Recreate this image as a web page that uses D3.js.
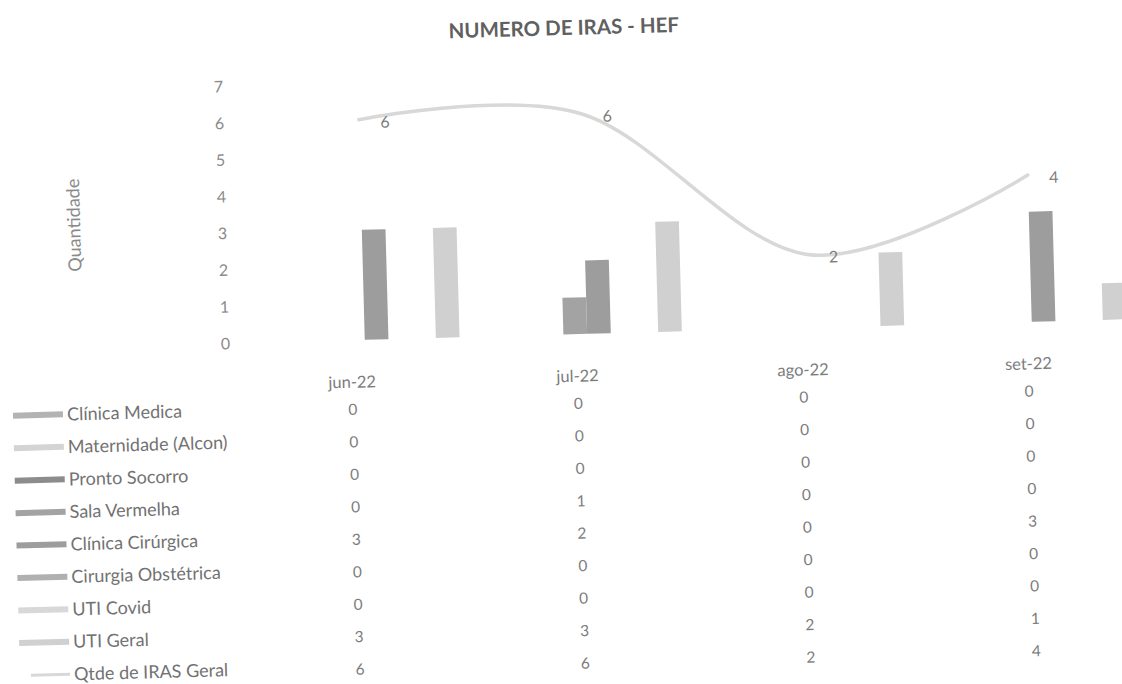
<!DOCTYPE html>
<html><head><meta charset="utf-8">
<script src="https://cdn.jsdelivr.net/npm/d3@7"></script>
<style>
html,body{margin:0;padding:0;background:#fff;}
svg{display:block;}
text{font-family:Lato,"Open Sans",sans-serif;}
</style></head><body>
<svg id="chart" width="1122" height="684"></svg>
<script>
// ---- data ----
const categories = ["jun-22", "jul-22", "ago-22", "set-22"];
const seriesNames = ["Clínica Medica", "Maternidade (Alcon)", "Pronto Socorro", "Sala Vermelha",
  "Clínica Cirúrgica", "Cirurgia Obstétrica", "UTI Covid", "UTI Geral"];
const clinicaMedica      = [0, 0, 0, 0];
const maternidadeAlcon   = [0, 0, 0, 0];
const prontoSocorro      = [0, 0, 0, 0];
const salaVermelha       = [0, 1, 0, 0];
const clinicaCirurgica   = [3, 2, 0, 3];
const cirurgiaObstetrica = [0, 0, 0, 0];
const utiCovid           = [0, 0, 0, 0];
const utiGeral           = [3, 3, 2, 1];
const lineName = "Qtde de IRAS Geral";
const qtdeIrasGeral = [6, 6, 2, 4];
const yTicks = [0, 1, 2, 3, 4, 5, 6, 7];
const titleText = "NUMERO DE IRAS - HEF";
const yTitle = "Quantidade";

// ---- styles ----
const barColors = ["#b3b3b3", "#d4d4d4", "#8c8c8c", "#a3a3a3", "#9d9d9d", "#b0b0b0", "#d8d8d8", "#d0d0d0"];
const lineColor = "#d8d8d8";
const textColor = "#7c7c7c";

const seriesValues = [clinicaMedica, maternidadeAlcon, prontoSocorro, salaVermelha,
  clinicaCirurgica, cirurgiaObstetrica, utiCovid, utiGeral];
const barData = [];
categories.forEach((c, ci) => seriesNames.forEach((s, si) =>
  barData.push({cat: c, name: s, value: seriesValues[si][ci]})));

const svg = d3.select("#chart");
svg.append("rect").attr("width", 1122).attr("height", 684).attr("fill", "#fff");
// the scanned page is slightly tilted
const g = svg.append("g").attr("transform", "rotate(-1.55,600,334)");

// ---- scales ----
const x0 = d3.scaleBand().domain(categories).range([253.5, 1143.1])
  .paddingInner(0.1475).paddingOuter(0.07375);
const x1 = d3.scaleBand().domain(seriesNames).range([0, x0.bandwidth()]).padding(0);
const y = d3.scaleLinear().domain([0, 7]).range([333.5, 333.5 - 7 * 36.7]);
const color = d3.scaleOrdinal().domain(seriesNames).range(barColors);

// title
g.append("text").attr("x", 572).attr("y", 27).attr("dy", "0.35em")
  .attr("text-anchor", "middle").attr("font-size", 20.5).attr("font-weight", "bold")
  .attr("fill", "#606060").text(titleText);

// y axis title
g.append("text").attr("transform", "translate(77,211) rotate(-90)").attr("dy", "0.35em")
  .attr("text-anchor", "middle").attr("font-size", 18).attr("fill", "#8a8a8a").text(yTitle);

// y axis
const yAxis = g.append("g").attr("transform", "translate(230,0)")
  .call(d3.axisLeft(y).tickValues(yTicks).tickSize(0).tickPadding(0).tickFormat(d3.format("d")));
yAxis.select(".domain").remove();
yAxis.selectAll("text").attr("font-size", 16).attr("fill", "#8a8a8a")
  .attr("font-family", "Lato,'Open Sans',sans-serif");

// bars
g.append("g").selectAll("rect").data(barData.filter(d => d.value > 0)).join("rect")
  .attr("x", d => x0(d.cat) + x1(d.name))
  .attr("width", x1.bandwidth())
  .attr("y", d => y(d.value))
  .attr("height", d => y(0) - y(d.value))
  .attr("fill", d => color(d.name));

// line
const cx = c => x0(c) + x0.bandwidth() / 2;
const line = d3.line().x((d, i) => cx(categories[i])).y(d => y(d)).curve(d3.curveCardinal.tension(0));
g.append("path").datum(qtdeIrasGeral).attr("d", line).attr("fill", "none")
  .attr("stroke", lineColor).attr("stroke-width", 3.5).attr("stroke-linecap", "round");
g.append("g").selectAll("text").data(qtdeIrasGeral).join("text")
  .attr("x", (d, i) => cx(categories[i]) + 26).attr("y", d => y(d) + 3).attr("dy", "0.35em")
  .attr("text-anchor", "middle").attr("font-size", 16).attr("fill", textColor).text(d => d);

// ---- data table ----
const rows = seriesNames.concat([lineName]);
const rowValues = seriesValues.concat([qtdeIrasGeral]);
const xt = d3.scalePoint().domain(categories).range([351, 1027.5]);
const yr = d3.scalePoint().domain(rows).range([402.8, 662.7]);
const table = g.append("g");
table.selectAll("text.cat").data(categories).join("text").attr("class", "cat")
  .attr("x", d => xt(d)).attr("y", 375.3).attr("dy", "0.35em").attr("text-anchor", "middle")
  .attr("font-size", 16.5).attr("fill", textColor).text(d => d);
rows.forEach((r, ri) => {
  table.append("g").selectAll("text").data(rowValues[ri]).join("text")
    .attr("x", (d, i) => xt(categories[i])).attr("y", yr(r)).attr("dy", "0.35em")
    .attr("text-anchor", "middle").attr("font-size", 15.5).attr("fill", textColor).text(d => d);
});

// legend (row headers)
const leg = g.append("g");
seriesNames.forEach(s => {
  leg.append("rect").attr("x", 11).attr("y", yr(s) - 3 - 3).attr("width", 50).attr("height", 6)
    .attr("fill", color(s));
});
leg.append("line").attr("x1", 22).attr("x2", 61).attr("y1", yr(lineName) - 3).attr("y2", yr(lineName) - 3)
  .attr("stroke", lineColor).attr("stroke-width", 3);
leg.selectAll("text").data(rows).join("text")
  .attr("x", 65).attr("y", d => yr(d) - 3).attr("dy", "0.35em")
  .attr("font-size", 18).attr("fill", "#727272").text(d => d);
</script>
</body></html>
